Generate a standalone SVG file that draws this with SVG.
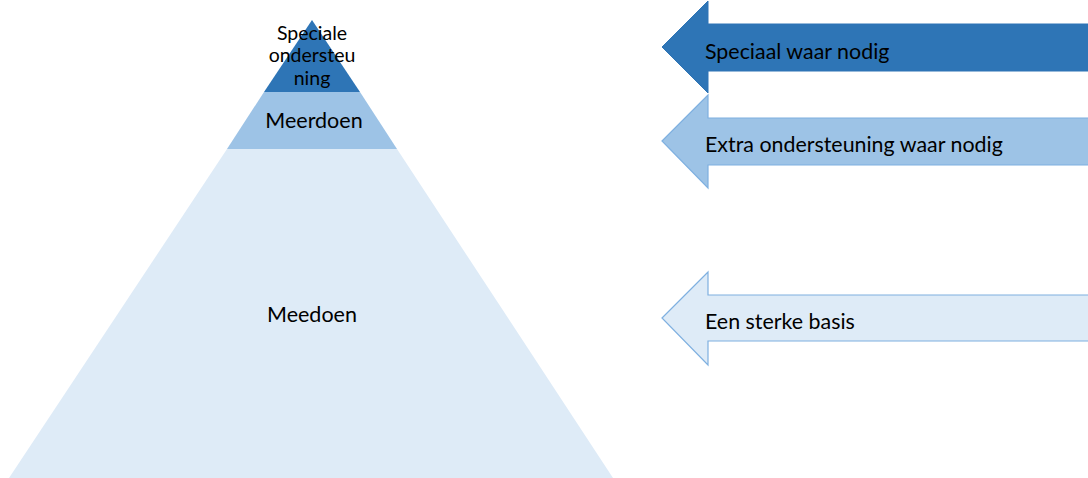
<svg xmlns="http://www.w3.org/2000/svg" width="1088" height="478" viewBox="0 0 1088 478">
<style>
.t{font-family:Lato,"Open Sans","Liberation Sans",sans-serif;fill:#000;}
.pc{text-anchor:middle;}
.dark{fill:#2E75B6;}
.mid{fill:#9DC3E6;}
.light{fill:#DEEBF7;}
.a1{fill:#2E75B6;stroke:#2E75B6;stroke-width:1;}
.a2{fill:#9DC3E6;stroke:#7FB0E0;stroke-width:1.2;}
.a3{fill:#DEEBF7;stroke:#7FB0E0;stroke-width:1.2;}
</style>
<rect width="1088" height="478" fill="#fff"/>
<g id="pyramid-top">
<polygon class="dark" points="312,20 264,92 360,92"/>
<text class="t pc" x="312" y="40" font-size="19.5">Speciale</text>
<text class="t pc" x="312" y="62" font-size="19.5">ondersteu</text>
<text class="t pc" x="312" y="85" font-size="19.5">ning</text>
</g>
<g id="pyramid-middle">
<polygon class="mid" points="264,92 360,92 397,149 227,149"/>
<text class="t pc" x="314" y="128" font-size="21.5">Meerdoen</text>
</g>
<g id="pyramid-base">
<polygon class="light" points="227,149 397,149 613,478 9,478"/>
<text class="t pc" x="312" y="322" font-size="21.5">Meedoen</text>
</g>
<g id="arrow-speciaal">
<polygon class="a1" points="662,47 708,1 708,24 1089,24 1089,71 708,71 708,93"/>
<text class="t" x="705" y="59" font-size="21.4">Speciaal waar nodig</text>
</g>
<g id="arrow-extra">
<polygon class="a2" points="662,141 708,95 708,118 1089,118 1089,165 708,165 708,188"/>
<text class="t" x="705" y="152" font-size="21.4">Extra ondersteuning waar nodig</text>
</g>
<g id="arrow-basis">
<polygon class="a3" points="662,318 708,272 708,295 1089,295 1089,341 708,341 708,365"/>
<text class="t" x="705" y="329" font-size="21.4">Een sterke basis</text>
</g>
<g id="connectors"></g>
</svg>
